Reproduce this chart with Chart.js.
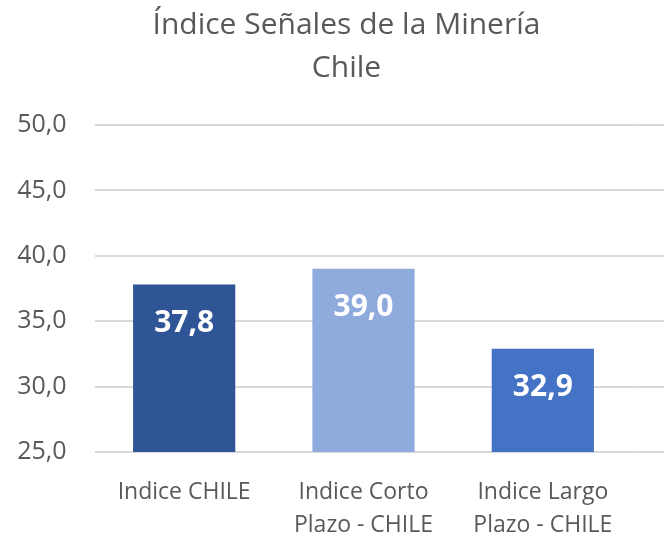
<!DOCTYPE html>
<html>
<head>
<meta charset="utf-8">
<script src="https://cdn.jsdelivr.net/npm/chart.js@4"></script>
<style>
  html, body { margin: 0; padding: 0; background: #ffffff; }
  #wrap { width: 664px; height: 539px; position: relative; }
</style>
</head>
<body>
<div id="wrap"><canvas id="c" width="664" height="539"></canvas></div>
<script>
const titleLines = ["Índice Señales de la Minería", "Chile"];
const categories = [["Indice CHILE"], ["Indice Corto", "Plazo - CHILE"], ["Indice Largo", "Plazo - CHILE"]];
const values = [37.8, 39.0, 32.9];
const barColors = ["#2F5597", "#8FAADC", "#4472C4"];
const yMin = 25, yMax = 50, yStep = 5;

const fmt = v => v.toFixed(1).replace('.', ',');
const FONT = "'Open Sans', 'Liberation Sans', sans-serif";
const TXT = "#595959";
const GRID = "#d9d9d9";

const extendGrid = {
  id: 'extendGrid',
  beforeDatasetsDraw(chart) {
    const y = chart.scales.y, a = chart.chartArea, ctx = chart.ctx;
    ctx.save();
    ctx.strokeStyle = GRID;
    ctx.lineWidth = 2;
    y.ticks.forEach(t => {
      const py = Math.round(y.getPixelForValue(t.value));
      ctx.beginPath();
      ctx.moveTo(a.right, py);
      ctx.lineTo(chart.width, py);
      ctx.stroke();
    });
    ctx.restore();
  }
};

const dataLabels = {
  id: 'dataLabels',
  afterDatasetsDraw(chart) {
    const ctx = chart.ctx;
    ctx.save();
    ctx.fillStyle = '#ffffff';
    ctx.font = "bold 30px " + FONT;
    ctx.textAlign = 'center';
    ctx.textBaseline = 'middle';
    chart.getDatasetMeta(0).data.forEach((bar, i) => {
      ctx.fillText(fmt(values[i]), bar.x, bar.y + 39);
    });
    ctx.restore();
  }
};

new Chart(document.getElementById('c'), {
  type: 'bar',
  data: {
    labels: categories,
    datasets: [{
      data: values,
      backgroundColor: barColors,
      borderWidth: 0,
      categoryPercentage: 1,
      barPercentage: 0.57
    }]
  },
  options: {
    responsive: false,
    animation: false,
    devicePixelRatio: 1,
    layout: { padding: { left: 12, right: -17, top: 0, bottom: 0 } },
    plugins: {
      legend: { display: false },
      tooltip: { enabled: false },
      title: {
        display: true,
        text: titleLines,
        color: TXT,
        font: { family: FONT, size: 30, weight: 'normal', lineHeight: 1.433 },
        padding: { top: 3.5, bottom: 35.5 }
      }
    },
    scales: {
      x: {
        grid: { display: false, drawTicks: false },
        border: { display: false },
        ticks: {
          color: TXT,
          font: { family: FONT, size: 23, lineHeight: 1.42 },
          padding: 24,
          maxRotation: 0,
          autoSkip: false
        },
        afterFit(s) { s.height = 87; }
      },
      y: {
        position: 'left',
        min: yMin, max: yMax,
        grid: { color: GRID, lineWidth: 2, drawTicks: false },
        border: { display: false },
        ticks: {
          stepSize: yStep,
          color: TXT,
          font: { family: FONT, size: 25 },
          padding: 28,
          callback: v => fmt(v)
        },
        afterFit(s) { s.width = 82.5; }
      },
      yRight: {
        position: 'right',
        min: yMin, max: yMax,
        grid: { display: false, drawTicks: false },
        border: { display: false },
        ticks: { display: false },
        afterFit(s) { s.width = 48.5; }
      }
    }
  },
  plugins: [extendGrid, dataLabels]
});
</script>
</body>
</html>
